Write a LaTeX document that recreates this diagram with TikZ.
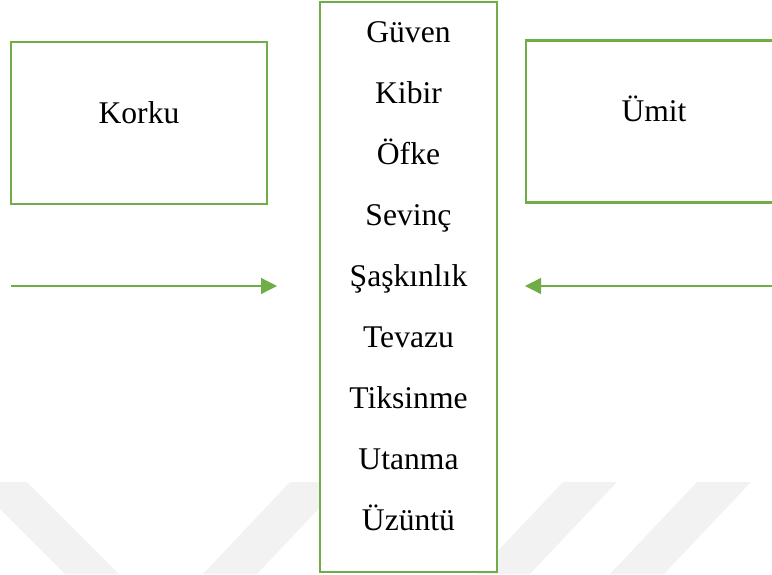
\documentclass[tikz,border=0pt]{standalone}
\usepackage{fontspec}
\setmainfont{Liberation Serif}
\usetikzlibrary{arrows.meta}
\definecolor{leafgreen}{rgb}{0.44, 0.68, 0.28}
\definecolor{palegray}{rgb}{0.95, 0.95, 0.95}

\begin{document}
\begin{tikzpicture}[x=0.5pt,y=-0.5pt,
    kutu/.style={draw=leafgreen,line width=1.3pt,fill=white,minimum width=128pt,minimum height=81pt,text height=6pt,text depth=6pt,font=\fontsize{15.8}{18}\selectfont},
    liste/.style={draw=leafgreen,line width=1.3pt,fill=white,minimum width=88.5pt,minimum height=285pt},
    duygu/.style={anchor=base,inner sep=0pt,font=\fontsize{15.8}{18}\selectfont},
    ok/.style={draw=leafgreen,line width=0.65pt,-{Triangle[length=8pt,width=8pt]}}]

    \useasboundingbox (0,0) rectangle (772,574);

    % soluk filigran
    \fill[palegray] (-27,482) -- (27,482) -- (119,574) -- (65,574) -- cycle;
    \foreach \x in {290,563,697}
      \fill[palegray] (\x,482) -- (\x+54,482) -- (\x-33,574) -- (\x-87,574) -- cycle;

    \node[kutu] (korku) at (139,123) {Korku};
\node[kutu] (umit) at (654,121.5) {Ümit};
\node[liste] (duygular) at (408.5,287) {};
\foreach \ad [count=\i] in {Güven,Kibir,Öfke,Sevinç,Şaşkınlık,Tevazu,Tiksinme,Utanma,Üzüntü}
  \node[duygu] (duygu\i) at (408.5,42+61*\i-61) {\ad};

\coordinate (solBas) at (11,286);
\coordinate (solUc) at (277,286);
\coordinate (sagBas) at (772,286);
\coordinate (sagUc) at (525,286);
\draw[ok] (solBas) -- (solUc);
\draw[ok] (sagBas) -- (sagUc);

  \end{tikzpicture}
\end{document}
